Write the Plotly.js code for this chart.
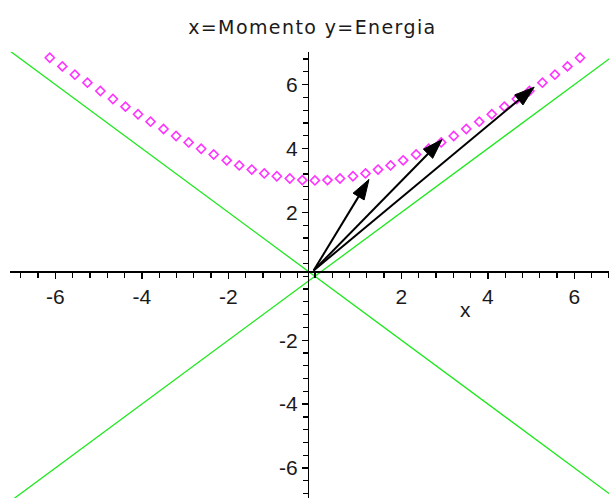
<!DOCTYPE html>
<html>
<head>
<meta charset="utf-8">
<script src="https://cdn.plot.ly/plotly-3.0.1.min.js"></script>
<style>
  html, body { margin: 0; padding: 0; background: #ffffff; overflow: hidden; }
  #plot { width: 609px; height: 498px; }
  /* the title is set a little looser than the default spacing */
  #plot .gtitle { letter-spacing: 1.4px; }
</style>
</head>
<body>
<div id="plot"></div>
<script>
// Energy-momentum relation: momentum (x) vs energy (y)
const momentum = [-6.13, -5.84, -5.55, -5.26, -4.96, -4.67, -4.38, -4.09, -3.80, -3.50,
                  -3.21, -2.92, -2.63, -2.34, -2.04, -1.75, -1.46, -1.17, -0.88, -0.58,
                  -0.29, 0.00, 0.29, 0.58, 0.88, 1.17, 1.46, 1.75, 2.04, 2.34,
                  2.63, 2.92, 3.21, 3.50, 3.80, 4.09, 4.38, 4.67, 4.96, 5.26,
                  5.55, 5.84, 6.13];
const energy = [6.84, 6.57, 6.31, 6.06, 5.80, 5.55, 5.31, 5.07, 4.84, 4.61,
                4.39, 4.19, 3.99, 3.81, 3.63, 3.47, 3.34, 3.22, 3.13, 3.06,
                3.01, 3.00, 3.01, 3.06, 3.13, 3.22, 3.34, 3.47, 3.63, 3.81,
                3.99, 4.19, 4.39, 4.61, 4.84, 5.07, 5.31, 5.55, 5.80, 6.06,
                6.31, 6.57, 6.84];

// light-cone lines E = |p|
const coneX = [-7.2, 7.2];
const coneUp = [-7.2, 7.2];
const coneDown = [7.2, -7.2];

// four-momentum arrows
const arrowBaseX = [-0.03, -0.03, -0.03];
const arrowBaseY = [0.18, 0.18, 0.18];
const arrowTipX = [1.25, 2.94, 5.07];
const arrowTipY = [3.03, 4.28, 5.92];

// axes
const xRange = [-7.05, 6.80];
const yRange = [-6.94, 7.02];
const xTickVals = [-6, -4, -2, 2, 4, 6];
const xTickText = ['-6', '-4', '-2', '2', '4', '6'];
const yTickVals = [-6, -4, -2, 2, 4, 6];
const yTickText = ['-6', '-4', '-2', '2', '4', '6'];

const TITLE_FONT = 'DejaVu Sans, Verdana, sans-serif';
const TICK_FONT = 'Liberation Sans, Arial, sans-serif';
const TEXT_COLOR = '#1a1a1a';

const traces = [
  { x: coneX, y: coneUp, mode: 'lines', line: { color: '#1ee81e', width: 1.3 }, hoverinfo: 'skip' },
  { x: coneX, y: coneDown, mode: 'lines', line: { color: '#1ee81e', width: 1.3 }, hoverinfo: 'skip' },
  {
    x: momentum, y: energy, mode: 'markers',
    marker: { symbol: 'diamond-open', size: 7, color: '#ff33ff', line: { width: 1.6, color: '#ff33ff' } }
  }
];

for (let i = 0; i < arrowTipX.length; i++) {
  traces.push({
    x: [arrowBaseX[i], arrowTipX[i]],
    y: [arrowBaseY[i], arrowTipY[i]],
    mode: 'lines+markers',
    opacity: 1,
    line: { color: '#000000', width: 2 },
    marker: {
      symbol: ['circle', 'arrow'], size: [0, 21], angleref: 'previous',
      color: '#000000', opacity: 1, line: { width: 1, color: '#000000' }
    },
    hoverinfo: 'skip'
  });
}

function axis(range, vals, text) {
  return {
    range: range,
    anchor: 'free',
    position: (0 - range[0]) / (range[1] - range[0]),
    showline: true, linecolor: '#000000', linewidth: 1.6,
    showgrid: false, zeroline: false, automargin: false,
    tickmode: 'array', tickvals: vals, ticktext: text,
    ticks: 'outside', ticklen: 6, tickwidth: 1.3, tickcolor: '#000000',
    tickfont: { family: TICK_FONT, size: 21, color: TEXT_COLOR },
    minor: { tickmode: 'linear', tick0: 0, dtick: 0.4, ticks: 'outside', ticklen: 5, tickwidth: 1.3, tickcolor: '#000000' },
    fixedrange: true
  };
}

const layout = {
  width: 609, height: 498,
  margin: { l: 10, r: 0, t: 52, b: 0, pad: 0 },
  paper_bgcolor: '#ffffff', plot_bgcolor: '#ffffff',
  showlegend: false,
  title: {
    text: 'x=Momento y=Energia',
    font: { family: TITLE_FONT, size: 19, color: TEXT_COLOR },
    x: 0.513, xanchor: 'center', y: 0.945, yanchor: 'middle'
  },
  xaxis: axis(xRange, xTickVals, xTickText),
  yaxis: axis(yRange, yTickVals, yTickText),
  annotations: [{
    x: 3.49, y: -1.03, xref: 'x', yref: 'y', text: 'x', showarrow: false,
    font: { family: TICK_FONT, size: 21, color: TEXT_COLOR }
  }]
};

Plotly.newPlot('plot', traces, layout, { displayModeBar: false, staticPlot: true });
</script>
</body>
</html>
